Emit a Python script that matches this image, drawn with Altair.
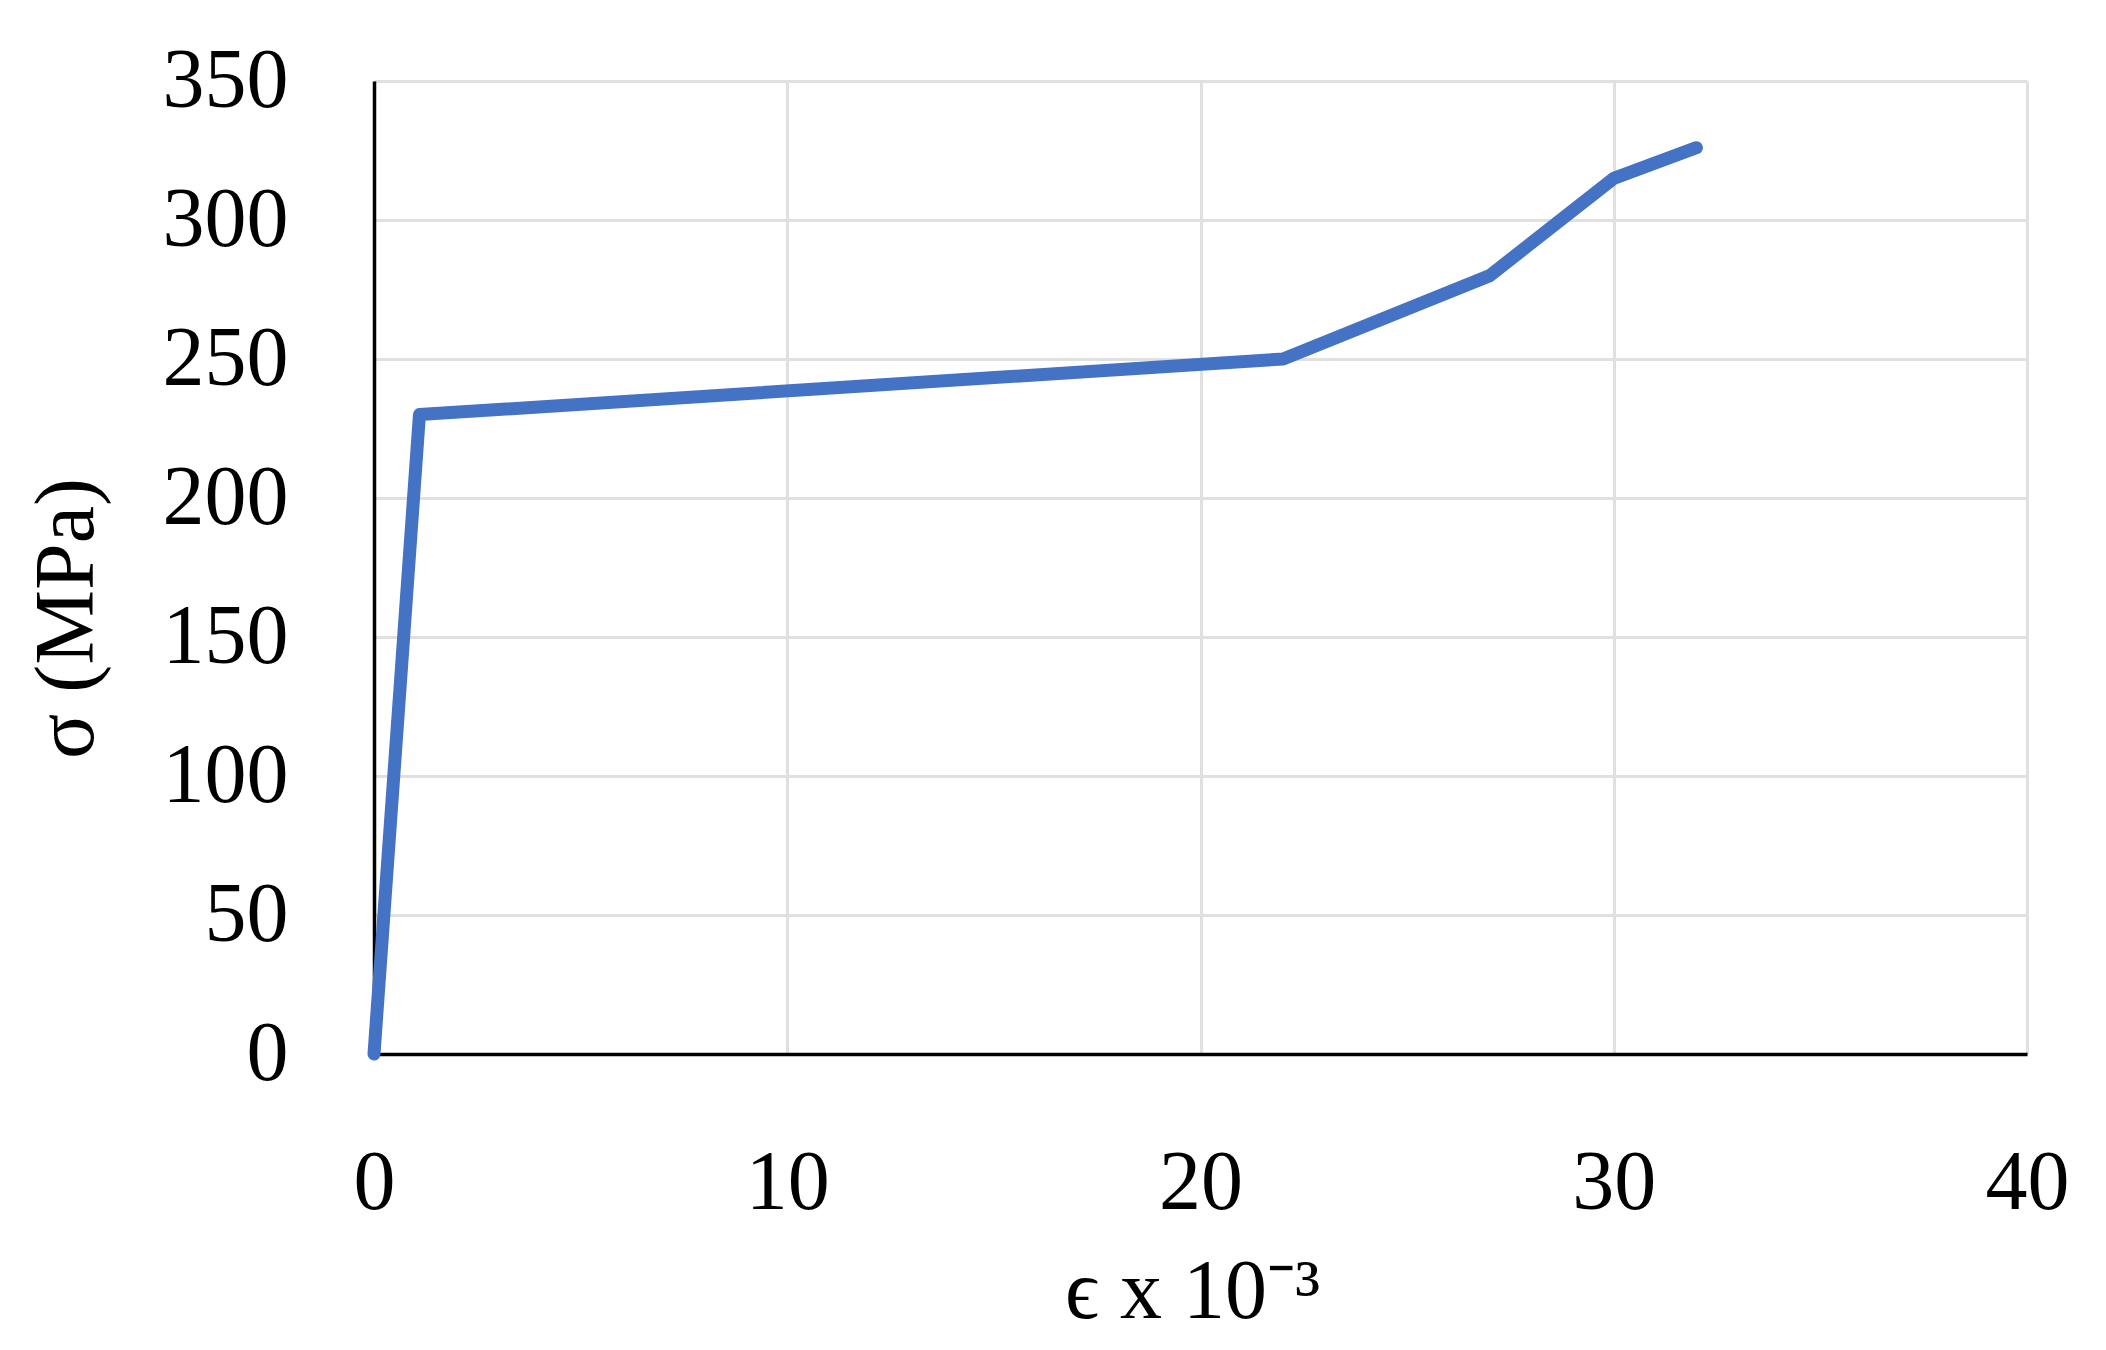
import altair as alt
import pandas as pd

strain = [0, 1.1, 22, 27, 30, 32]
stress = [0, 230, 250, 280, 315, 326]
x_ticks = [0, 10, 20, 30, 40]
y_ticks = [0, 50, 100, 150, 200, 250, 300, 350]

df = pd.DataFrame({"strain": strain, "stress": stress, "order": list(range(len(strain)))})

FONT = "Liberation Serif"

chart = alt.Chart(df).mark_line(
    color="#4472C4", strokeWidth=13, strokeCap="round", strokeJoin="round"
).encode(
    x=alt.X("strain:Q",
            scale=alt.Scale(domain=[0, 40], nice=False, zero=True),
            axis=alt.Axis(values=x_ticks, title="ϵ  x 10⁻³", grid=True,
                          ticks=False, labelPadding=88, titleY=263,
                          titleBaseline="alphabetic", titleX=818)),
    y=alt.Y("stress:Q",
            scale=alt.Scale(domain=[0, 350], nice=False),
            axis=alt.Axis(values=y_ticks, title="σ (MPa)", grid=True,
                          ticks=False, labelPadding=86, titleX=-307,
                          titleY=537, titleBaseline="middle")),
    order="order:O",
).properties(
    width=1653, height=973,
    background="white",
    autosize=alt.AutoSizeParams(type="none"),
    padding={"left": 366, "top": 73, "right": 70, "bottom": 288},
).configure_view(
    stroke=None
).configure_axis(
    labelFont=FONT, titleFont=FONT,
    labelFontSize=84, titleFontSize=84,
    labelColor="black", titleColor="black",
    titleFontWeight="normal",
    domainColor="black", domainWidth=3.5,
    gridColor="#E0E0E0", gridWidth=3,
    labelFlush=False,
)

chart.save("out.html", embed_options={"renderer": "svg", "actions": False})
